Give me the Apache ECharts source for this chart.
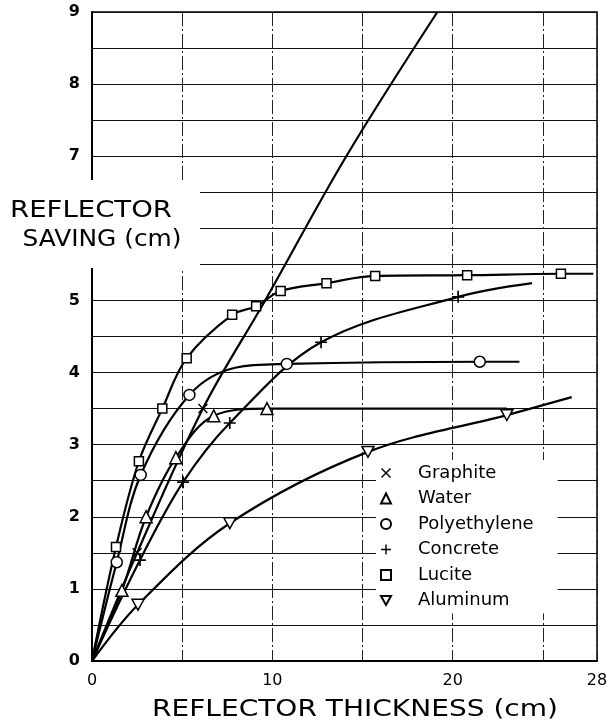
<!DOCTYPE html>
<html>
<head>
<meta charset="utf-8">
<script src="https://cdn.jsdelivr.net/npm/echarts@6/dist/echarts.min.js"></script>
<style>
  html, body { margin: 0; padding: 0; background: #fff; }
  #chart { width: 614px; height: 725px; }
</style>
</head>
<body>
<div id="chart"></div>
<script>
// tick labels
const xTickLabels = [0, 10, 20, 28];
const yTickLabels = [0, 1, 2, 3, 4, 5, 6, 7, 8, 9];

// measured points [thickness cm, saving cm]
const graphitePts = [[2.5, 1.5], [6.15, 3.5]];
const graphiteCurve = [[0, 0], [2.5, 1.5], [6.15, 3.5], [9.6, 5], [14.1, 7], [19.15, 9]];

const waterPts = [[1.66, 0.98], [3.0, 2.0], [4.65, 2.82], [6.75, 3.4], [9.7, 3.5]];
const waterCurve = [[0, 0], [1.66, 0.98], [3.0, 2.0], [4.65, 2.82], [6.75, 3.4], [9.7, 3.5], [23, 3.5]];

const polyPts = [[1.37, 1.37], [2.7, 2.58], [5.4, 3.69], [10.8, 4.12], [21.5, 4.15]];
const polyCurve = [[0, 0], [1.37, 1.37], [2.7, 2.58], [5.4, 3.69], [8, 4.07], [10.8, 4.12], [21.5, 4.15], [23.7, 4.15]];

const concretePts = [[2.66, 1.4], [5.05, 2.48], [7.64, 3.3], [12.7, 4.42], [20.3, 5.05]];
const concreteCurve = [[0, 0], [2.66, 1.4], [5.05, 2.48], [7.64, 3.3], [12.7, 4.42], [20.3, 5.05], [24.4, 5.24]];

const lucitePts = [[1.33, 1.58], [2.6, 2.77], [3.9, 3.5], [5.25, 4.2], [7.77, 4.8], [9.1, 4.92], [10.46, 5.13], [13, 5.24], [15.7, 5.34], [20.8, 5.35], [26, 5.37]];
const luciteCurve = [[0, 0], [1.33, 1.58], [2.6, 2.77], [3.9, 3.5], [5.25, 4.2], [7.77, 4.8], [9.1, 4.92], [10.46, 5.13], [13, 5.24], [15.7, 5.34], [20.8, 5.35], [26, 5.37], [27.8, 5.37]];

const aluminumPts = [[2.55, 0.78], [7.64, 1.91], [15.3, 2.9], [23, 3.41]];
const aluminumCurve = [[0, 0], [2.55, 0.78], [7.64, 1.91], [15.3, 2.9], [23, 3.41], [26.6, 3.66]];

const plusPath = 'path://M4.3,0H5.7V4.3H10V5.7H5.7V10H4.3V5.7H0V4.3H4.3Z';
const xPath = 'path://M1,0L5,4L9,0L10,1L6,5L10,9L9,10L5,6L1,10L0,9L4,5L0,1Z';
const downTriPath = 'path://M0,0L10,0L5,9Z';

const materials = [
  { name: 'Graphite', pts: graphitePts, curve: graphiteCurve, symbol: xPath, size: 10, fill: '#000' },
  { name: 'Water', pts: waterPts, curve: waterCurve, symbol: 'triangle', size: 12, fill: '#fff' },
  { name: 'Polyethylene', pts: polyPts, curve: polyCurve, symbol: 'circle', size: 11, fill: '#fff' },
  { name: 'Concrete', pts: concretePts, curve: concreteCurve, symbol: plusPath, size: 12, fill: '#000' },
  { name: 'Lucite', pts: lucitePts, curve: luciteCurve, symbol: 'rect', size: 9, fill: '#fff' },
  { name: 'Aluminum', pts: aluminumPts, curve: aluminumCurve, symbol: downTriPath, size: 12, fill: '#fff' },
];

// stretch text horizontally to match the wide lettering of the original
const measureCtx = document.createElement('canvas').getContext('2d');
function stretch(text, font, width) {
  measureCtx.font = font;
  return width / measureCtx.measureText(text).width;
}

const titleFont = '23px "DejaVu Sans"';
const series = [];
materials.forEach(m => {
  series.push({
    name: m.name + ' curve',
    type: 'line',
    data: m.curve,
    smooth: 0.35,
    showSymbol: false,
    lineStyle: { color: '#000', width: 2.2 },
    z: 2,
    silent: true,
  });
  series.push({
    name: m.name,
    type: 'scatter',
    data: m.pts,
    symbol: m.symbol,
    symbolSize: m.size,
    symbolKeepAspect: true,
    itemStyle: { color: m.fill, borderColor: '#000', borderWidth: m.fill === '#fff' ? 1.5 : 0, opacity: 1 },
    z: 3,
  });
});

const chart = echarts.init(document.getElementById('chart'));
chart.setOption({
  animation: false,
  backgroundColor: '#fff',
  grid: { left: 92, right: 17, top: 12, bottom: 64, show: true, borderColor: '#000', borderWidth: 1.5, outerBoundsMode: 'none' },
  xAxis: {
    type: 'value', min: 0, max: 28, interval: 5,
    axisLine: { lineStyle: { color: '#000', width: 2 } },
    axisTick: { show: false },
    axisLabel: {
      color: '#000', fontFamily: 'DejaVu Sans', fontSize: 16, margin: 12,
      formatter: v => (xTickLabels.includes(v) ? String(v) : ''),
    },
    splitLine: { lineStyle: { color: '#222', width: 1, type: [14, 3, 2, 3] } },
  },
  yAxis: {
    type: 'value', min: 0, max: 9, interval: 0.5,
    axisLine: { show: true, lineStyle: { color: '#000', width: 2 } },
    axisTick: { show: false },
    axisLabel: {
      color: '#000', fontFamily: 'DejaVu Sans', fontSize: 16, fontWeight: 'bold', margin: 12,
      formatter: v => (yTickLabels.includes(v) ? String(v) : ''),
    },
    splitLine: { lineStyle: { color: '#111', width: 1.2 } },
  },
  legend: {
    orient: 'vertical', left: 376, top: 460,
    padding: [4, 24, 4, 4],
    backgroundColor: '#fff',
    itemWidth: 10, itemHeight: 10, itemGap: 7.5,
    data: materials.map(m => m.name),
    textStyle: { fontFamily: 'DejaVu Sans', fontSize: 18, color: '#000', lineHeight: 18, padding: [0, 0, 0, 22] },
    selectedMode: false,
  },
  graphic: [
    { type: 'rect', left: 0, top: 180, shape: { width: 200, height: 88 }, style: { fill: '#fff' }, z: 100 },
    { type: 'text', x: 91, y: 211, z: 101, scaleX: stretch('REFLECTOR', titleFont, 162),
      style: { text: 'REFLECTOR', font: titleFont, fill: '#000', align: 'center', verticalAlign: 'middle' } },
    { type: 'text', x: 102, y: 240, z: 101, scaleX: stretch('SAVING (cm)', titleFont, 159),
      style: { text: 'SAVING (cm)', font: titleFont, fill: '#000', align: 'center', verticalAlign: 'middle' } },
    { type: 'text', x: 355, y: 710, z: 101, scaleX: stretch('REFLECTOR THICKNESS (cm)', titleFont, 406),
      style: { text: 'REFLECTOR THICKNESS (cm)', font: titleFont, fill: '#000', align: 'center', verticalAlign: 'middle' } },
  ],
  series: series,
});
</script>
</body>
</html>
